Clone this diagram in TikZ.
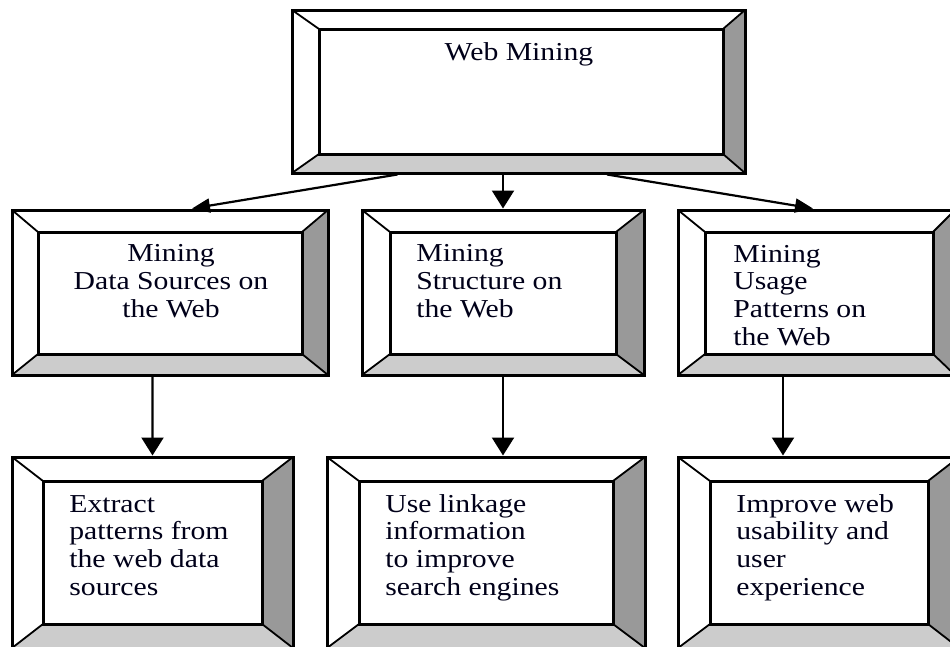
\documentclass[tikz,border=0pt]{standalone}
\usepackage{fontspec}
\setmainfont{Liberation Serif}[FakeStretch=1.15]
\usetikzlibrary{arrows.meta,fit,calc}

\definecolor{bevelR}{HTML}{999999}
\definecolor{bevelB}{HTML}{CCCCCC}

\tikzset{
  frameline/.style={line width=3*0.02cm, line join=miter},
  diagline/.style={line width=1.8*0.02cm},
  outerbox/.style={draw, frameline, inner sep=0pt},
  boxtext/.style={inner sep=0pt, font=\fontsize{14.7pt}{15.7pt}\selectfont, text=black!90!blue},
  arrV/.style={line width=2.2*0.02cm, -{Triangle[length=0.36cm,width=0.44cm]}},
  arrS/.style={line width=2.2*0.02cm, -{Triangle[length=0.36cm,width=0.28cm]}},
}

% bevelled frame: name, outer x1 y1 x2 y2, inner x1 y1 x2 y2
\newcommand\bvbox[9]{%
  \fill[white] (#2,#3) rectangle (#4,#5);
  \fill[bevelR] (#4,#3) -- (#8,#7) -- (#8,#9) -- (#4,#5) -- cycle;
  \fill[bevelB] (#2,#5) -- (#6,#9) -- (#8,#9) -- (#4,#5) -- cycle;
  \draw[diagline] (#2,#3) -- (#6,#7) (#4,#3) -- (#8,#7)
                  (#2,#5) -- (#6,#9) (#4,#5) -- (#8,#9);
  \draw[frameline] (#6,#7) rectangle (#8,#9);
  \node[outerbox, fit={(#2,#3)(#4,#5)}] (#1) {};
}

\begin{document}
\begin{tikzpicture}[x=0.02cm, y=-0.02cm]
  \useasboundingbox (0,0) rectangle (950,646);
  \clip (0,0) rectangle (950,646);

  % boxes
  \bvbox{web}{292}{10}{745}{173}{319}{29}{723}{154}
  \bvbox{content}{12}{210}{328}{375}{38}{232}{302}{354}
  \bvbox{structure}{362}{210}{644}{375}{390}{232}{616}{354}
  \bvbox{usage}{678}{210}{955}{375}{705}{232}{933}{354}
  \bvbox{extract}{12}{457}{293}{648}{43}{481}{262}{624}
  \bvbox{linkage}{327}{457}{645}{648}{359}{481}{613}{624}
  \bvbox{improve}{678}{457}{959}{648}{710}{481}{928}{624}

  % labels (anchored at the baseline of their last line)
  \node[boxtext, anchor=base] (tweb) at (519,60) {Web Mining};
  \node[boxtext, anchor=base, align=center] (tcontent) at (171,317)
    {Mining\\Data Sources on\\the Web};
  \node[boxtext, anchor=base west, align=left] (tstructure) at (416,317)
    {Mining\\Structure on\\the Web};
  \node[boxtext, anchor=base west, align=left] (tusage) at (733,345)
    {Mining\\Usage\\Patterns on\\the Web};
  \node[boxtext, anchor=base west, align=left] (textract) at (69,595)
    {Extract\\patterns from\\the web data\\sources};
  \node[boxtext, anchor=base west, align=left] (tlinkage) at (385,595)
    {Use linkage\\information\\to improve\\search engines};
  \node[boxtext, anchor=base west, align=left] (timprove) at (736,595)
    {Improve web\\usability and\\user\\experience};

  % connectors
  \draw[arrS] ($(web.south)+(-121,0)$) -- ($(content.north)+(22,0)$);
  \draw[arrV] ($(web.south)+(-15.5,0)$) -- (structure.north);
  \draw[arrS] ($(web.south)+(88.5,0)$) -- ($(usage.north)+(-3.5,0)$);
  \draw[arrV] ($(content.south)+(-17.5,0)$) -- (extract.north);
  \draw[arrV] (structure.south) -- ($(linkage.north)+(17,0)$);
  \draw[arrV] ($(usage.south)+(-33.5,0)$) -- ($(improve.north)+(-35.5,0)$);
\end{tikzpicture}
\end{document}
